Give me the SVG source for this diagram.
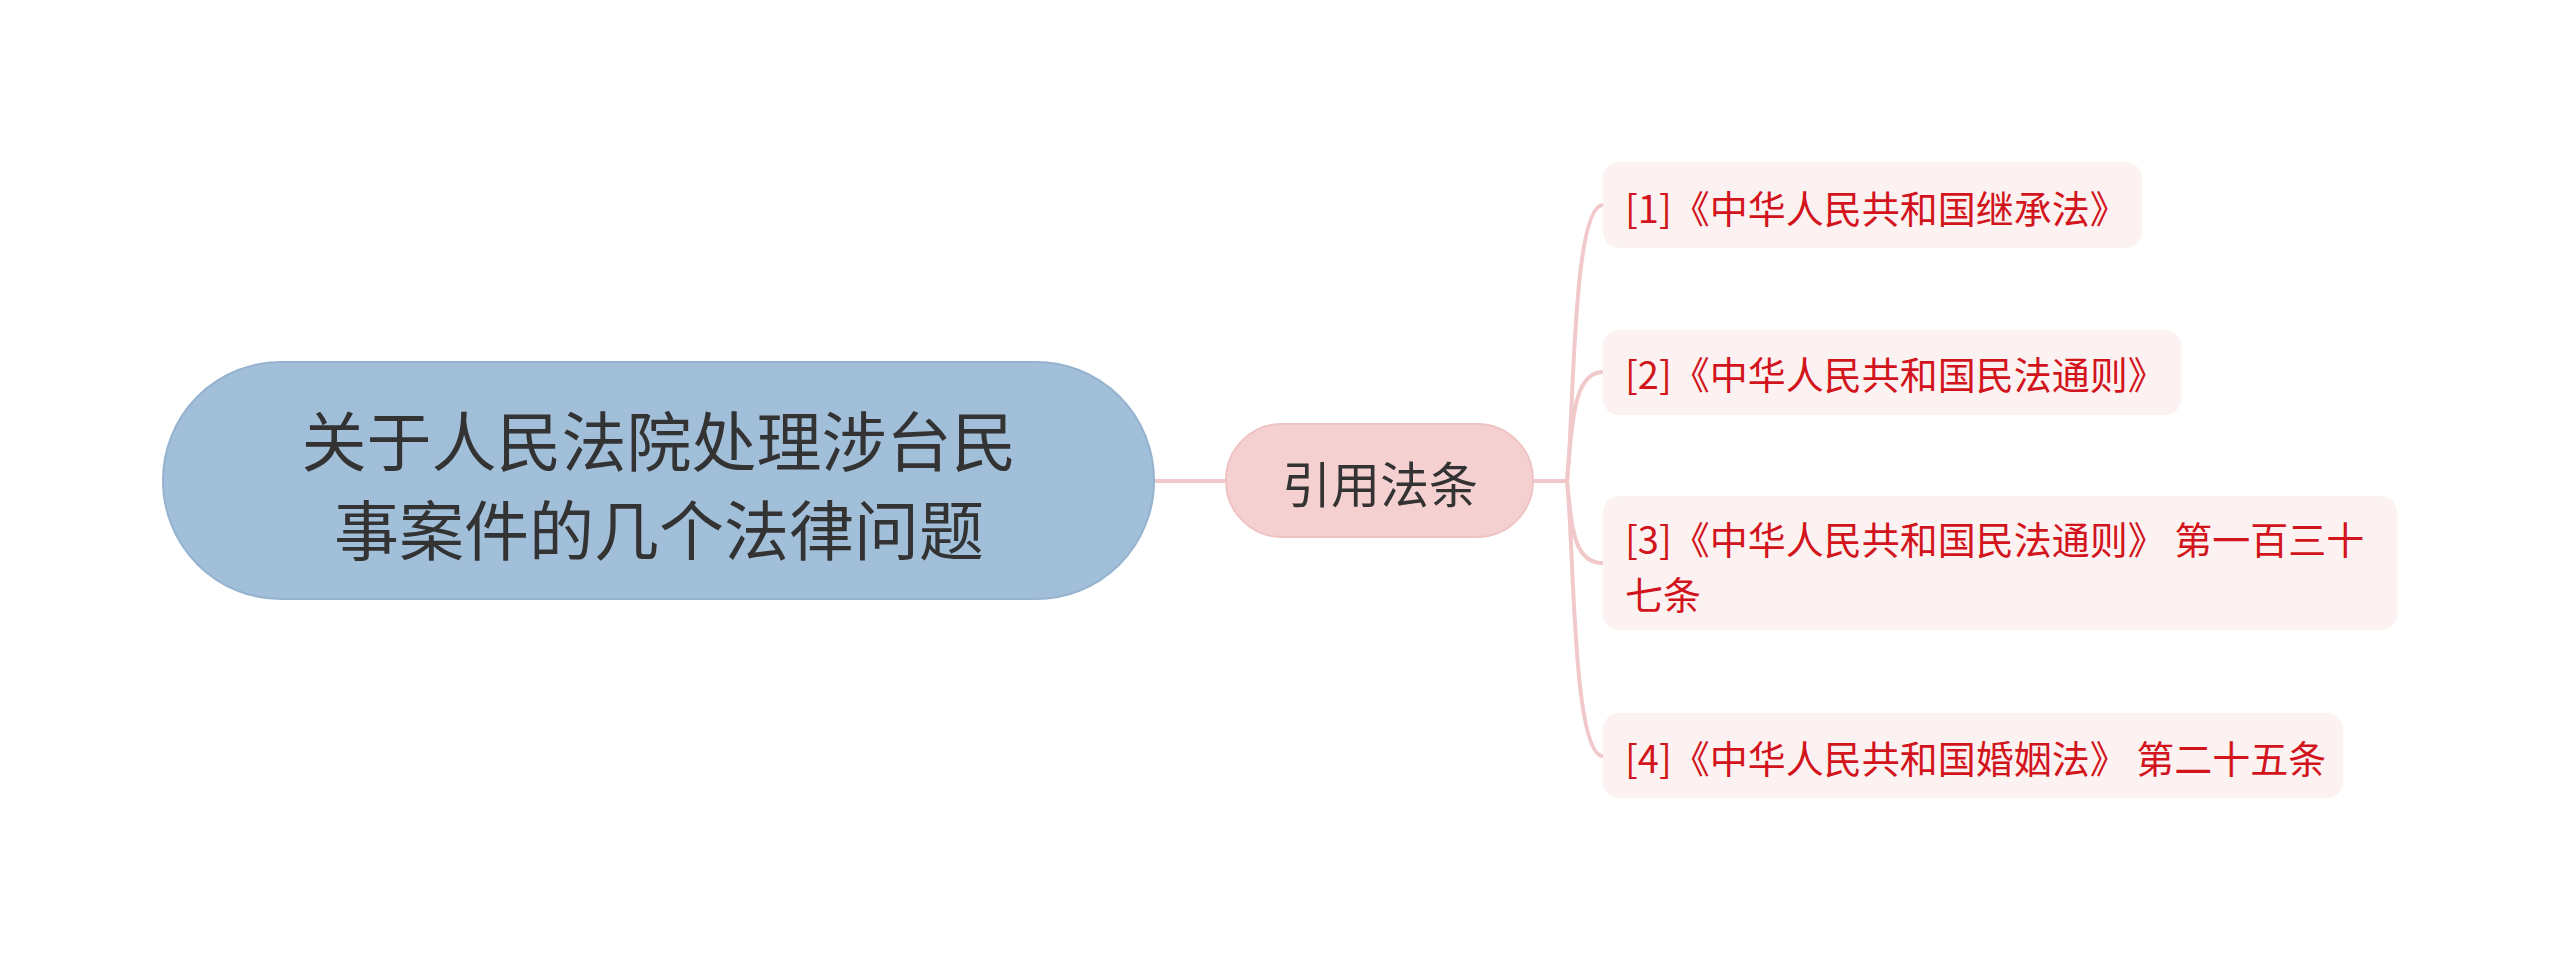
<svg xmlns="http://www.w3.org/2000/svg" width="2560" height="961" viewBox="0 0 2560 961">
<style>
.t{font-family:"Noto Sans CJK SC","Noto Sans",sans-serif;dominant-baseline:central}
.root{fill:#a2bfda;stroke:#95b3cf;stroke-width:2}
.mid{fill:#f5d0d1;stroke:#efc3c4;stroke-width:2}
.leaf{fill:#fcf2f2}
.lt{font-size:38px;fill:#d2141c}
.con{fill:none;stroke:#f2c9ca;stroke-width:4;stroke-linecap:round}
</style>
<rect width="2560" height="961" fill="#ffffff"/>
<g id="connectors">
<path class="con" d="M1154 481 L1226 481"/>
<path class="con" d="M1533 481 L1567 481"/>
<path class="con" d="M1567 481 C1574 420 1572 205 1603 205"/>
<path class="con" d="M1567 481 C1572 420 1574 372 1603 372"/>
<path class="con" d="M1567 481 C1572 530 1574 563 1603 563"/>
<path class="con" d="M1567 481 C1574 540 1572 756 1603 756"/>
</g>
<g id="root">
<rect class="root" x="163" y="362" width="991" height="237" rx="118" ry="118"/>
<text class="t" x="659" y="438" font-size="65" fill="#333333" text-anchor="middle">关于人民法院处理涉台民</text>
<text class="t" x="659" y="527" font-size="65" fill="#333333" text-anchor="middle">事案件的几个法律问题</text>
</g>
<g id="n-cite">
<rect class="mid" x="1226" y="424" width="307" height="113" rx="56" ry="56"/>
<text class="t" x="1380" y="481" font-size="49" fill="#333333" text-anchor="middle">引用法条</text>
</g>
<g id="n1">
<rect class="leaf" x="1603" y="162" width="539" height="86" rx="16" ry="16"/>
<text class="t lt" x="1625" y="206">[1]《中华人民共和国继承法》</text>
</g>
<g id="n2">
<rect class="leaf" x="1603" y="330" width="578" height="85" rx="16" ry="16"/>
<text class="t lt" x="1625" y="372">[2]《中华人民共和国民法通则》</text>
</g>
<g id="n3">
<rect class="leaf" x="1603" y="496" width="794" height="134" rx="16" ry="16"/>
<text class="t lt" x="1625" y="537">[3]《中华人民共和国民法通则》 第一百三十</text>
<text class="t lt" x="1625" y="592">七条</text>
</g>
<g id="n4">
<rect class="leaf" x="1603" y="713" width="740" height="85" rx="16" ry="16"/>
<text class="t lt" x="1625" y="756">[4]《中华人民共和国婚姻法》 第二十五条</text>
</g>
</svg>
